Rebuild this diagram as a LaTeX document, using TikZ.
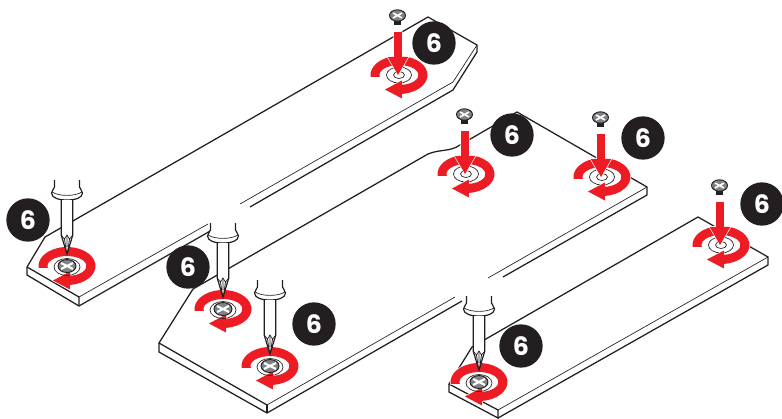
\documentclass[tikz,border=0pt]{standalone}
\usepackage{xcolor}
\usepackage{fontspec}
\setmainfont{Poppins}
\definecolor{inkblack}{HTML}{231F20}
\definecolor{turnred}{HTML}{ED1C24}
\definecolor{screwgray}{HTML}{808285}
\tikzset{
  edgeline/.style={draw=inkblack, line width=0.95pt, line join=miter},
  thinline/.style={draw=inkblack, line width=0.5pt},
  badge/.style={circle, fill=inkblack, text=white, minimum size=32.5pt, inner sep=0pt,
                font=\fontsize{19}{19}\selectfont\bfseries},
  pics/turnmark/.style={code={
    \path[fill=turnred, preaction={draw=white, line width=1pt}]
      (-28.35,1.98) arc[start angle=174, end angle=444, x radius=28.5, y radius=19]
      -- (3,23.5) -- (-14,14.5) -- (3,5.5) -- (3,9.9)
      arc[start angle=441, end angle=169, x radius=19.5, y radius=10] -- cycle;
  }},
  pics/boardhole/.style={code={
    \draw[thinline] (0,0) ellipse[x radius=12.5, y radius=8];
    \draw[thinline] (0,0) ellipse[x radius=5.5, y radius=3.5];
  }},
  pics/downarrow/.style={code={
    \path[fill=turnred, preaction={draw=white, line width=1pt}]
      (-4.9,-43) -- (2.9,-43) -- (2.9,-18) -- (9.3,-18) -- (-1,0) -- (-11.3,-18) -- (-4.9,-18) -- cycle;
  }},
  pics/loosescrew/.style={code={
    \fill[inkblack] (-4.8,-55) -- (-4.8,-50) -- (1.8,-50) -- (1.8,-55) -- cycle;
    \draw[inkblack, fill=screwgray, line width=0.7pt] (-1.5,-59.5) ellipse[x radius=8, y radius=5.7];
    \draw[white, line width=1.2pt] (-6,-62) -- (3,-57) (3,-62) -- (-6,-57);
  }},
  pics/seatedscrew/.style={code={
    \draw[thinline] (0,1) ellipse[x radius=13, y radius=8.5];
    \draw[inkblack, fill=screwgray, line width=0.7pt] (0,0) ellipse[x radius=9, y radius=6.5];
    \draw[white, line width=1.6pt] (-6,-3) -- (6,3) (6,-3) -- (-6,3);
  }},
  pics/driver/.style={code={
    \draw[fill=white, draw=inkblack, line width=0.9pt]
      (-12.5,-86) -- (-12.5,-79) .. controls (-13,-76) and (-15.5,-76) .. (-15.5,-73)
      .. controls (-15.5,-68) and (-8,-66) .. (0,-66)
      .. controls (8,-66) and (15.5,-68) .. (15.5,-73)
      .. controls (15.5,-76) and (13,-76) .. (12.5,-79) -- (12.5,-86);
    \draw[inkblack, line width=0.5pt] (-15,-74) .. controls (-8,-69.5) and (8,-69.5) .. (15,-74);
    \draw[fill=white, draw=inkblack, line width=0.9pt]
      (-5.8,-66) -- (-5.8,-31) -- (0,-12) -- (5.8,-31) -- (5.8,-66);
    \draw[inkblack, line width=0.5pt] (-5.8,-31) -- (-2.5,-27) -- (0,-31) -- (2.5,-27) -- (5.8,-31);
    \draw[inkblack, line width=0.6pt] (-2.5,-27) -- (-0.6,-14) (2.5,-27) -- (0.6,-14) (0,-31) -- (0,-19);
  }}
}
\begin{document}
\begin{tikzpicture}[x=0.75pt, y=-0.75pt]
\useasboundingbox (0,0) rectangle (782,418);
\draw[edgeline] (27,267) -- (45,237) -- (428,17) -- (477,45) -- (477,52) -- (453,90) -- (250,207);
\draw[thinline] (477,45) -- (453,82) -- (240,204);
\draw[edgeline] (27,267) -- (27,275) -- (79,306) -- (212,230);
\draw[edgeline] (27,267) -- (79,297) -- (79,306);
\draw[thinline] (79,297) -- (208,224);

\draw[edgeline] (267,405) -- (159,343) -- (193,289) -- (428,154)
  .. controls (440,149) and (450,152) .. (460,145) -- (517,112) -- (647,187) -- (647,195) -- (503,277);
\draw[thinline] (647,187) -- (488,278);
\draw[edgeline] (159,343) -- (159,352) -- (267,413) -- (462,301);
\draw[edgeline] (267,405) -- (267,413);
\draw[thinline] (267,405) -- (455,297);

\draw[edgeline] (498,410) -- (449,384) -- (472,347) -- (698,217) -- (768,257) -- (768,265) -- (498,418);
\draw[edgeline] (449,384) -- (449,392) -- (498,418) -- (498,410);
\draw[thinline] (768,257) -- (498,410);

\foreach \x/\y/\n in {399/75/a, 466/174/b, 602/177/c, 721/245/d} {
  \pic (hole\n) at (\x,\y) {boardhole};
  \pic (spin\n) at (\x,\y) {turnmark};
  \pic (drop\n) at (\x,\y) {downarrow};
  \pic (bolt\n) at (\x,\y) {loosescrew};
}
\foreach \x/\y/\n in {67/266/e, 223/309/f, 270/366/g, 479/382/h} {
  \pic (spin\n) at (\x,\y) {turnmark};
  \pic (bolt\n) at (\x,\y) {seatedscrew};
  \pic (tool\n) at (\x,\y) {driver};
}
\foreach \x/\y/\n in {434/43/a, 512/135/b, 643/138/c, 762/204/d, 28/220/e, 188/267/f, 314/324/g, 521/346/h} {
  \node[badge] (badge\n) at (\x,\y) {6};
}
\end{tikzpicture}
\end{document}
